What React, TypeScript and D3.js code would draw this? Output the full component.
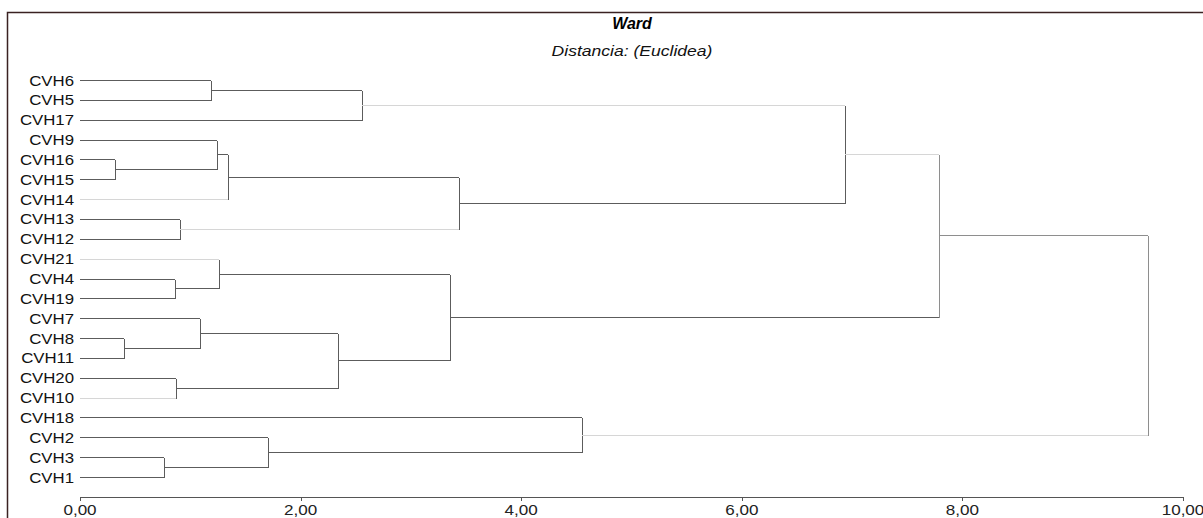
import React from 'react';
import * as d3 from 'd3';

const WIDTH = 1203;
const HEIGHT = 518;

const LEAVES = [
  'CVH6', 'CVH5', 'CVH17', 'CVH9', 'CVH16', 'CVH15', 'CVH14', 'CVH13', 'CVH12', 'CVH21',
  'CVH4', 'CVH19', 'CVH7', 'CVH8', 'CVH11', 'CVH20', 'CVH10', 'CVH18', 'CVH2', 'CVH3', 'CVH1',
];

// [id, left child, right child, distance]
const MERGES: [string, string, string, number][] = [
  ['m1', 'CVH6', 'CVH5', 1.19],
  ['m2', 'm1', 'CVH17', 2.56],
  ['m3', 'CVH16', 'CVH15', 0.32],
  ['m4', 'CVH9', 'm3', 1.24],
  ['m5', 'm4', 'CVH14', 1.34],
  ['m6', 'CVH13', 'CVH12', 0.91],
  ['m7', 'm5', 'm6', 3.44],
  ['m8', 'm2', 'm7', 6.94],
  ['m9', 'CVH4', 'CVH19', 0.86],
  ['m10', 'CVH21', 'm9', 1.26],
  ['m11', 'CVH8', 'CVH11', 0.4],
  ['m12', 'CVH7', 'm11', 1.09],
  ['m13', 'CVH20', 'CVH10', 0.87],
  ['m14', 'm12', 'm13', 2.34],
  ['m15', 'm10', 'm14', 3.35],
  ['m16', 'CVH3', 'CVH1', 0.76],
  ['m17', 'CVH2', 'm16', 1.7],
  ['m18', 'CVH18', 'm17', 4.55],
  ['m19', 'm8', 'm15', 7.79],
  ['m20', 'm19', 'm18', 9.68],
];

const TICKS = [0, 2, 4, 6, 8, 10];
const TITLE = 'Ward';
const SUBTITLE = 'Distancia: (Euclidea)';

// line tones, the way the original export rendered them
const LIGHT = new Set(['CVH14', 'CVH21', 'CVH10', 'm6', 'm2', 'm8', 'm18']);
const MID = new Set(['m19', 'v:m19', 'v:m20']);
const DARK = '#5c5c5c';
const tone = (k: string) => (LIGHT.has(k) ? '#d6d6d6' : MID.has(k) ? '#8e8e8e' : DARK);

const x = d3.scaleLinear().domain([0, 10]).range([80, 1183]);
const y = d3.scalePoint<string>().domain(LEAVES).range([80, 477]);

const fmt = (v: number) => d3.format('.2f')(v).replace('.', ',');

export default function App() {
  const pos: Record<string, { h: number; y: number }> = {};
  LEAVES.forEach((l) => (pos[l] = { h: 0, y: y(l) as number }));
  MERGES.forEach(([id, a, b, h]) => {
    pos[id] = { h, y: (pos[a].y + pos[b].y) / 2 };
  });

  const font = 'Arial, "Liberation Sans", sans-serif';

  return (
    <svg
      width={WIDTH}
      height={HEIGHT}
      style={{ position: 'absolute', left: 0, top: 0, background: '#fff' }}
    >
      <path d={`M7.5,${HEIGHT + 2}V12.5H${WIDTH + 2}`} fill="none" stroke="#3a2222" strokeWidth={1.5} />

      <text x={632} y={29} textAnchor="middle" fontFamily={font} fontSize={16} fontWeight="bold" fontStyle="italic">
        {TITLE}
      </text>
      <g transform="translate(632,56) scale(1.17,1)">
        <text textAnchor="middle" fontFamily={font} fontSize={15} fontStyle="italic" fill="#111">
          {SUBTITLE}
        </text>
      </g>

      {LEAVES.map((l) => (
        <g key={l} transform={`translate(74,${(y(l) as number) + 5.5}) scale(1.12,1)`}>
          <text textAnchor="end" fontFamily={font} fontSize={15} fill="#111">
            {l}
          </text>
        </g>
      ))}

      <g fill="none" strokeWidth={1.2} shapeRendering="crispEdges">
        {MERGES.map(([id, a, b, h]) => (
          <g key={id}>
            {[a, b].map((c) => (
              <line
                key={c}
                x1={x(pos[c].h)}
                x2={x(h)}
                y1={Math.round(pos[c].y) + 0.5}
                y2={Math.round(pos[c].y) + 0.5}
                stroke={tone(c)}
              />
            ))}
            <line
              x1={Math.round(x(h)) + 0.5}
              x2={Math.round(x(h)) + 0.5}
              y1={Math.round(pos[a].y) + 0.5}
              y2={Math.round(pos[b].y) + 0.5}
              stroke={tone('v:' + id)}
            />
          </g>
        ))}
      </g>

      <g shapeRendering="crispEdges">
        <line x1={x(0)} x2={x(10)} y1={497.5} y2={497.5} stroke="#555" />
        {TICKS.map((t) => (
          <g key={t}>
            <line x1={Math.round(x(t)) + 0.5} x2={Math.round(x(t)) + 0.5} y1={497} y2={501} stroke="#555" />
            <g transform={`translate(${x(t)},515) scale(1.22,1)`}>
              <text textAnchor="middle" fontFamily={font} fontSize={14} fill="#222">
                {fmt(t)}
              </text>
            </g>
          </g>
        ))}
      </g>
    </svg>
  );
}
